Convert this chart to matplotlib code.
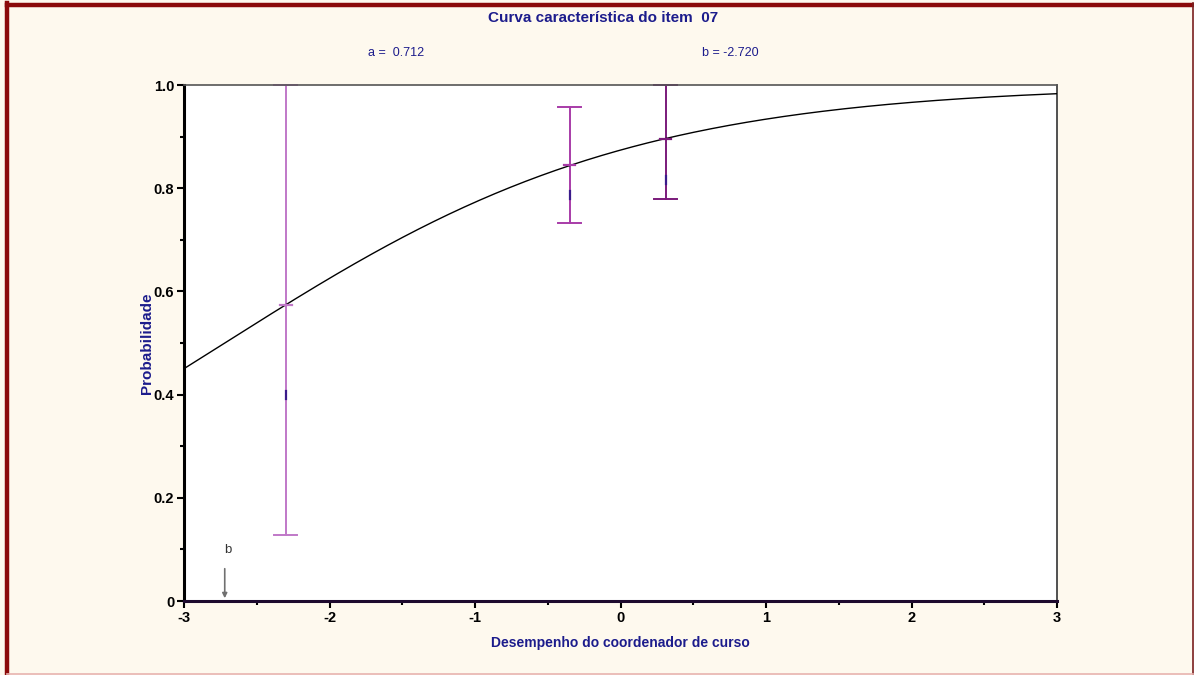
import numpy as np
import matplotlib.pyplot as plt
from matplotlib.lines import Line2D

# item parameters shown on the chart
a_param = 0.712
b_param = -2.720

# grouped observations: position, model value, observed proportion, interval
group_x = [-2.30, -0.35, 0.31]
group_model = [0.574, 0.845, 0.895]
group_obs = [0.399, 0.787, 0.816]
group_low = [0.128, 0.733, 0.779]
group_high = [1.0, 0.957, 1.0]
group_colors = ["#C078C8", "#A83CA8", "#7A1A7A"]

x_ticks = [-3, -2, -1, 0, 1, 2, 3]
y_ticks = [0, 0.2, 0.4, 0.6, 0.8, 1.0]
y_labels = ["0", "0.2", "0.4", "0.6", "0.8", "1.0"]

navy = "#1C1C8C"
bg = "#FEF9EE"

plt.rcParams["font.family"] = ["Liberation Sans", "DejaVu Sans"]

fig = plt.figure(figsize=(11.94, 6.75), dpi=100, facecolor=bg)

# frame: heavy dark red on top/left, thin on right, pale on bottom
fig.lines.append(Line2D([0.0055, 0.999], [0.9925, 0.9925], transform=fig.transFigure,
                        color="#8B0A0A", linewidth=3.2))
fig.lines.append(Line2D([0.0059, 0.0059], [0.0, 0.995], transform=fig.transFigure,
                        color="#8B0A0A", linewidth=3.2))
fig.lines.append(Line2D([0.9988, 0.9988], [0.0, 0.995], transform=fig.transFigure,
                        color="#7A2020", linewidth=1.2))
fig.lines.append(Line2D([0.0055, 0.999], [0.0012, 0.0012], transform=fig.transFigure,
                        color="#E8B4B0", linewidth=1.2))

ax = fig.add_axes([0.1541, 0.1096, 0.7312, 0.7644])
ax.set_facecolor("white")

# characteristic curve from a and b
theta = np.linspace(-3, 3, 400)
prob = 1.0 / (1.0 + np.exp(-a_param * (theta - b_param)))
ax.plot(theta, prob, color="black", linewidth=1.0, zorder=3)

for xg, m, o, lo, hi, c in zip(group_x, group_model, group_obs, group_low, group_high, group_colors):
    ax.plot([xg, xg], [lo, hi], color=c, linewidth=1.4, zorder=2, clip_on=False)
    ax.plot([xg - 0.08, xg + 0.08], [lo, lo], color=c, linewidth=1.4, clip_on=False)
    ax.plot([xg - 0.08, xg + 0.08], [hi, hi], color=c, linewidth=1.4, clip_on=False)
    ax.plot([xg - 0.04, xg + 0.04], [m, m], color=c, linewidth=1.6, zorder=4)
    ax.plot([xg, xg], [o - 0.008, o + 0.008], color="#3A1A8A", linewidth=1.6, zorder=4)

# b marker
ax.annotate("", xy=(b_param, 0.0), xytext=(b_param, 0.068),
            arrowprops=dict(arrowstyle="-|>", color="#707070", lw=1.2, mutation_scale=7))
ax.text(b_param + 0.02, 0.098, "b", fontsize=9.5, color="#333333", ha="center", va="center")

ax.set_xlim(-3, 3)
ax.set_ylim(0, 1)
ax.set_xticks(x_ticks)
ax.set_xticklabels([str(t) for t in x_ticks])
ax.set_xticks(np.arange(-2.5, 3, 1.0), minor=True)
ax.set_yticks(y_ticks)
ax.set_yticklabels(y_labels)
ax.set_yticks(np.arange(0.1, 1.0, 0.2), minor=True)
ax.tick_params(axis="both", which="major", length=5, width=1.5, labelsize=10.5, pad=2)
ax.tick_params(axis="both", which="minor", length=3, width=1.5)
for lab in ax.get_xticklabels() + ax.get_yticklabels():
    lab.set_fontweight("bold")

ax.spines["left"].set_linewidth(2.2)
ax.spines["left"].set_color("black")
ax.spines["bottom"].set_linewidth(2.2)
ax.spines["bottom"].set_color("#1E0A2E")
ax.spines["top"].set_linewidth(1.2)
ax.spines["top"].set_color("#555555")
ax.spines["right"].set_linewidth(1.2)
ax.spines["right"].set_color("#333333")

ax.set_xlabel("Desempenho do coordenador de curso", fontsize=10, fontweight="bold",
              color=navy, labelpad=8)
ax.set_ylabel("Probabilidade", fontsize=11, fontweight="bold", color=navy, labelpad=0)

fig.text(0.505, 0.973, "Curva característica do item  07", fontsize=11, fontweight="bold",
         color=navy, ha="center", va="center")
fig.text(0.332, 0.921, "a =  0.712", fontsize=9, color=navy, ha="center", va="center")
fig.text(0.612, 0.921, "b = -2.720", fontsize=9, color=navy, ha="center", va="center")

fig.savefig("out.png", dpi=100, facecolor=bg)
